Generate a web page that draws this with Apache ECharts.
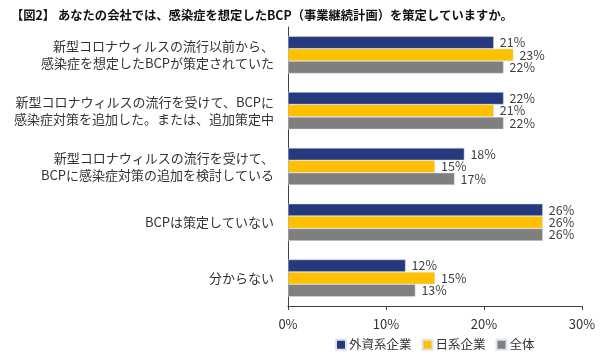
<!DOCTYPE html>
<html><head><meta charset="utf-8">
<script src="https://cdn.jsdelivr.net/npm/echarts@6/dist/echarts.min.js"></script>
<style>html,body{margin:0;padding:0;background:#fff}#c{width:600px;height:363px}</style>
</head><body><div id="c"></div>
<script>
const categories = [
  "新型コロナウィルスの流行以前から、\n感染症を想定したBCPが策定されていた",
  "新型コロナウィルスの流行を受けて、BCPに\n感染症対策を追加した。または、追加策定中",
  "新型コロナウィルスの流行を受けて、\nBCPに感染症対策の追加を検討している",
  "BCPは策定していない",
  "分からない"
];
const seriesNames = ["外資系企業", "日系企業", "全体"];
const foreign = [21, 22, 18, 26, 12];
const japanese = [23, 21, 15, 26, 15];
const total = [22, 22, 17, 26, 13];
const xTicks = [0, 10, 20, 30];
const colors = ["#253a7d", "#ffc000", "#7f7f7f"];
const FONT = "'Noto Sans CJK JP', sans-serif";
const chart = echarts.init(document.getElementById('c'));
const data = [foreign, japanese, total];
chart.setOption({
  animation: false,
  textStyle: { fontFamily: FONT },
  title: {
    text: "【図2】 あなたの会社では、感染症を想定したBCP（事業継続計画）を策定していますか。",
    left: 6, top: 4,
    textStyle: { fontSize: 12.3, fontWeight: 'bold', color: '#111', fontFamily: FONT }
  },
  legend: {
    data: seriesNames, bottom: 7, left: 330, itemWidth: 10, itemHeight: 10, itemGap: 10,
    icon: 'rect',
    textStyle: { fontSize: 12.5, color: '#333', fontFamily: FONT, padding: [0, 0, 0, -2] }
  },
  grid: { left: 288, right: 18, top: 27, height: 279, containLabel: false },
  xAxis: {
    type: 'value', min: 0, max: 30, interval: 10,
    splitLine: { show: false },
    axisLine: { show: true, lineStyle: { color: '#404040' } },
    axisTick: { show: true, length: 4, lineStyle: { color: '#404040' } },
    axisLabel: { formatter: v => v + '%', fontSize: 13, color: '#333', margin: 12, fontFamily: FONT }
  },
  yAxis: {
    type: 'category', data: categories, inverse: true,
    axisLine: { show: true, lineStyle: { color: '#404040' } },
    axisTick: { show: false },
    axisLabel: { fontSize: 13, color: '#333', margin: 14, lineHeight: 17, align: 'right', fontFamily: FONT }
  },
  series: seriesNames.map((n, i) => ({
    name: n, type: 'bar', data: data[i], barWidth: 12.4, barGap: '0%',
    itemStyle: { color: colors[i], borderColor: '#dde3f0', borderWidth: 0.5 },
    label: { show: true, position: 'right', formatter: '{c}%', fontSize: 12.5, color: '#404040', distance: 6, fontFamily: FONT }
  }))
});
</script></body></html>
